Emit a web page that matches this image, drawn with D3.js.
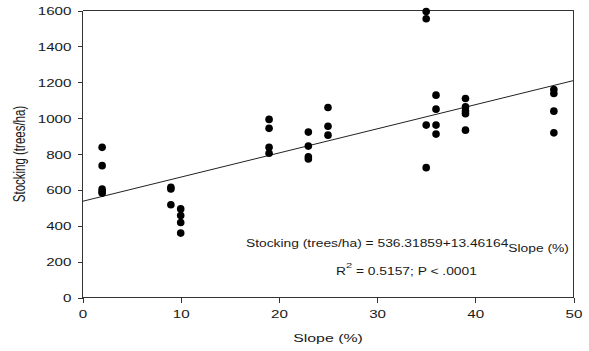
<!DOCTYPE html>
<meta charset="utf-8">
<style>
    body { margin: 0; background: #fff; }
    text { font-family: "Liberation Sans", Arial, sans-serif; fill: #1a1a1a; }
    .axis path, .axis line { stroke: #333; stroke-width: 1px; shape-rendering: crispEdges; }
    .frame { stroke: #333; stroke-width: 1px; fill: none; shape-rendering: crispEdges; }
</style>
<svg width="589" height="351"></svg>
<script src="https://cdn.jsdelivr.net/npm/d3@7"></script>
<script>

    // slope (%) and stocking (trees/ha) observations
    var slope = [2, 2, 2, 2, 2,
                 9, 9, 9,
                 10, 10, 10, 10,
                 19, 19, 19, 19,
                 23, 23, 23, 23,
                 25, 25, 25,
                 35, 35, 35, 35,
                 36, 36, 36, 36,
                 39, 39, 39, 39, 39,
                 48, 48, 48, 48];
    var stocking = [837, 735, 604, 590, 582,
                    615, 605, 517,
                    494, 457, 418, 359,
                    993, 943, 837, 804,
                    922, 844, 785, 772,
                    1059, 955, 905,
                    1594, 1554, 961, 724,
                    1128, 1050, 961, 911,
                    1109, 1063, 1040, 1025, 933,
                    1159, 1137, 1039, 918];

    var intercept = 536.31859, coef = 13.46164;
    var xTicks = [0, 10, 20, 30, 40, 50];
    var yTicks = [0, 200, 400, 600, 800, 1000, 1200, 1400, 1600];

    var svg = d3.select("svg");
    var stretch = 1.38;

    var x = d3.scaleLinear().domain([0, 50]).range([82.5, 573.5]);
    var y = d3.scaleLinear().domain([0, 1600]).range([297.5, 10.5]);

    // top and right frame lines
    svg.append("path").attr("class", "frame")
        .attr("d", "M" + x(0) + "," + y(1600) + "H" + x(50) + "V" + y(0));

    var xAxis = svg.append("g").attr("class", "axis")
        .attr("transform", "translate(0," + y(0) + ")")
        .call(d3.axisBottom(x).tickValues(xTicks).tickFormat(d3.format("d")).tickSize(5).tickSizeOuter(0));
    var yAxis = svg.append("g").attr("class", "axis")
        .attr("transform", "translate(" + x(0) + ",0)")
        .call(d3.axisLeft(y).tickValues(yTicks).tickFormat(d3.format("d")).tickSize(5).tickSizeOuter(0));

    xAxis.select(".domain").attr("d", "M" + x(0) + ",0H" + x(50));
    yAxis.select(".domain").attr("d", "M0," + y(0) + "V" + y(1600));

    xAxis.selectAll("text").attr("font-size", 11).attr("dy", null).attr("y", 0)
        .attr("transform", "translate(0,20) scale(" + stretch + ",1)")
        .attr("font-family", null);
    yAxis.selectAll("text").attr("font-size", 11).attr("x", 0).attr("dy", null)
        .attr("transform", "translate(-11,4) scale(" + stretch + ",1)")
        .attr("font-family", null);

    // axis titles
    svg.append("text")
        .attr("transform", "translate(" + ((x(0) + x(50)) / 2) + ",342) scale(" + stretch + ",1)")
        .attr("text-anchor", "middle").attr("font-size", 11.5)
        .text("Slope (%)");
    svg.append("text")
        .attr("transform", "translate(25," + y(800) + ") rotate(-90) scale(1," + stretch + ")")
        .attr("text-anchor", "middle").attr("font-size", 11.5)
        .text("Stocking (trees/ha)");

    // regression line
    svg.append("line")
        .attr("x1", x(0)).attr("y1", y(intercept))
        .attr("x2", x(50)).attr("y2", y(intercept + coef * 50))
        .attr("stroke", "#222").attr("stroke-width", 1);

    svg.append("g").selectAll("circle")
        .data(slope.map(function(s, i) { return [s, stocking[i]]; }))
        .enter().append("circle")
        .attr("cx", function(d) { return x(d[0]); })
        .attr("cy", function(d) { return y(d[1]); })
        .attr("r", 3.8)
        .attr("fill", "#000");

    // equation annotation
    var eq = svg.append("text")
        .attr("transform", "translate(246,247) scale(" + stretch + ",1)")
        .attr("font-size", 10);
    eq.append("tspan").text("Stocking (trees/ha) = " + intercept.toFixed(5) + "+" + coef.toFixed(5));
    eq.append("tspan").attr("dy", 5).text("Slope (%)");

    var r2 = svg.append("text")
        .attr("transform", "translate(336,275) scale(" + stretch + ",1)")
        .attr("font-size", 10);
    r2.append("tspan").text("R");
    r2.append("tspan").attr("dy", -7).attr("font-size", 8).text("2");
    r2.append("tspan").attr("dy", 7).text(" = 0.5157; P < .0001");

</script>
